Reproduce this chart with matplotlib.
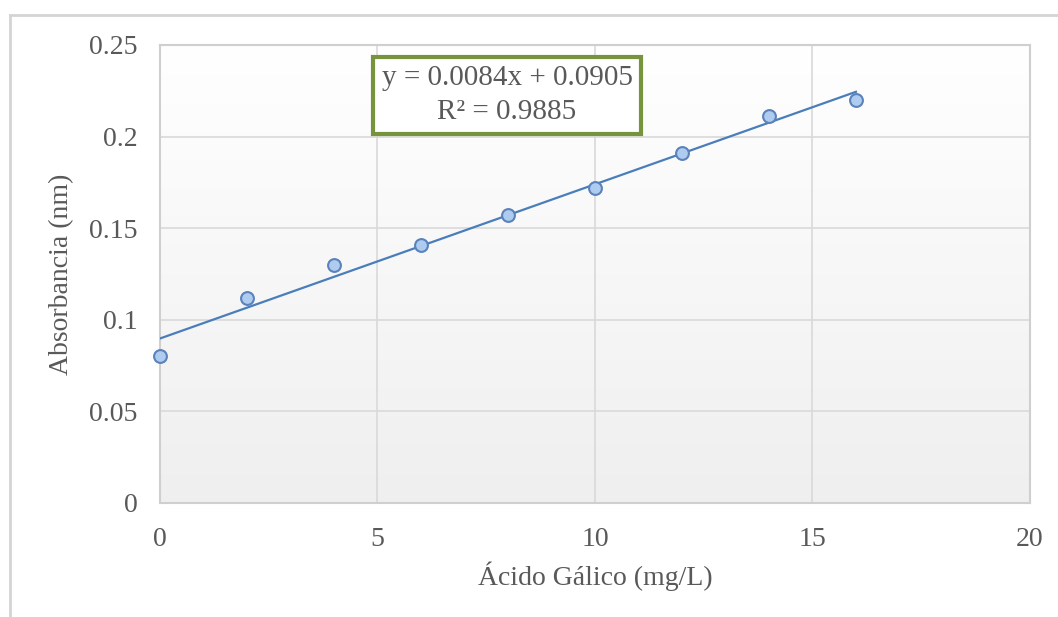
import numpy as np
import matplotlib
matplotlib.use("Agg")
import matplotlib.pyplot as plt
from matplotlib.lines import Line2D
from matplotlib.colors import LinearSegmentedColormap

# data
conc = [0, 2, 4, 6, 8, 10, 12, 14, 16]
absorb = [0.080, 0.112, 0.130, 0.141, 0.157, 0.172, 0.191, 0.211, 0.220]
x_ticks = [0, 5, 10, 15, 20]
y_ticks = [0, 0.05, 0.1, 0.15, 0.2, 0.25]
y_tick_labels = ["0", "0.05", "0.1", "0.15", "0.2", "0.25"]
eq_text = "y = 0.0084x + 0.0905\nR² = 0.9885"

plt.rcParams['font.family'] = ['Liberation Serif', 'DejaVu Serif']
txt = '#595959'

fig = plt.figure(figsize=(10.58, 6.17), dpi=100)
ax = fig.add_axes([0.1512, 0.1848, 0.8223, 0.7423])

# gradient plot area background: white at top, light grey at bottom
grad = np.linspace(0, 1, 256).reshape(-1, 1)
cmap = LinearSegmentedColormap.from_list('bg', ['#ffffff', '#efefef'])
ax.imshow(grad, cmap=cmap, aspect='auto', extent=[0, 20, 0, 0.25],
          origin='upper', zorder=0)

ax.set_xlim(0, 20)
ax.set_ylim(0, 0.25)
ax.set_xticks(x_ticks)
ax.set_yticks(y_ticks)
ax.set_yticklabels(y_tick_labels)
ax.grid(True, color='#d9d9d9', linewidth=1.2, zorder=1)
ax.set_axisbelow(True)
for s in ax.spines.values():
    s.set_color('#cfcfcf')
    s.set_linewidth(1.5)
ax.tick_params(length=0, labelsize=20, labelcolor=txt)
ax.tick_params(axis='x', pad=17)
ax.tick_params(axis='y', pad=16)

# linear trendline
slope, inter = np.polyfit(conc, absorb, 1)
xs = np.array([conc[0], conc[-1]])
ax.plot(xs, slope * xs + inter, color='#4a7ebb', linewidth=1.6, zorder=3)
ax.scatter(conc, absorb, s=85, facecolor='#aecbf0', edgecolor='#5b82bb',
           linewidth=1.5, zorder=4, clip_on=False)

ax.text(0.399, 0.89, eq_text, transform=ax.transAxes, ha='center', va='center',
        fontsize=21, color=txt, linespacing=1.4, zorder=5,
        bbox=dict(boxstyle='square,pad=0.28', facecolor='white',
                  edgecolor='#77933c', linewidth=3))

ax.set_xlabel('Ácido Gálico (mg/L)', fontsize=20, color=txt, labelpad=7)
ax.set_ylabel('Absorbancia (nm)', fontsize=20, color=txt, labelpad=11)

# outer chart frame (left and top edges visible)
fig.add_artist(Line2D([10 / 1058, 10 / 1058], [0, 1 - 15 / 617],
                      transform=fig.transFigure, color='#d4d4d4', linewidth=2))
fig.add_artist(Line2D([10 / 1058, 1], [1 - 15 / 617, 1 - 15 / 617],
                      transform=fig.transFigure, color='#d4d4d4', linewidth=2))

fig.savefig('out.png', dpi=100)
